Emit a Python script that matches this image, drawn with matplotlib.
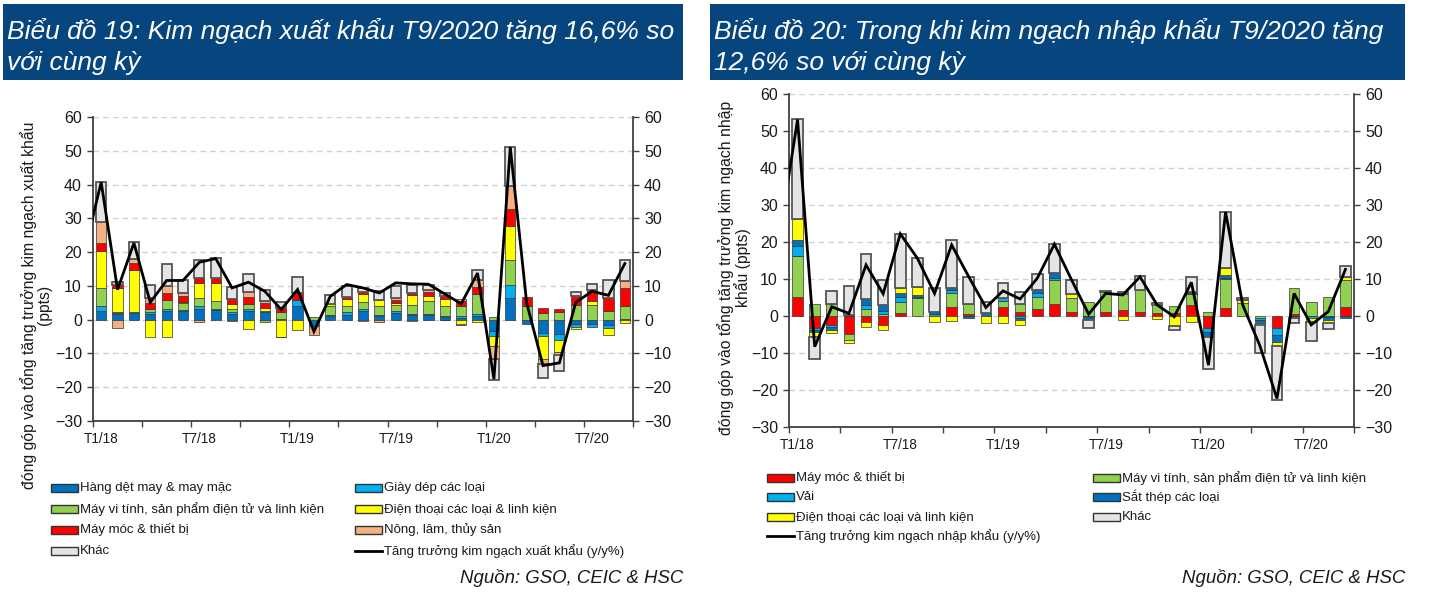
import numpy as np
import matplotlib
matplotlib.use("Agg")
import matplotlib.pyplot as plt
from matplotlib.patches import Rectangle
from matplotlib.lines import Line2D

plt.rcParams['font.family'] = ['Liberation Sans', 'DejaVu Sans']

W, H = 1429, 611
DPI = 100

# ---------------- data ----------------
months = [f"T{m}/{y}" for y in (18, 19, 20) for m in range(1, 13)][:33]
tick_labels = ["T1/18", "T7/18", "T1/19", "T7/19", "T1/20", "T7/20"]
tick_months = ["T1/18", "T7/18", "T1/19", "T7/19", "T1/20", "T7/20"]

# Chart 19 - exports (ppts contribution)
exp_det_may = [2.5, 1.7, 2.0, 1.8, 2.5, 2.5, 3.2, 3.0, 1.8, 2.5, 2.2, 0.0, 4.1, -2.0, 1.2, 1.5, 2.5,
               1.0, 2.0, 1.5, 1.3, 0.8, 0.5, 1.2, -3.5, 6.4, -1.3, -3.9, -4.1, -1.3, -1.2, -1.5, 0.3]
exp_giay_dep = [1.5, 0.3, 0.3, 0.6, 0.7, 0.3, 0.8, 0.3, 0.4, 0.7, 0.5, 0.3, 1.6, 0.0, 0.3, 0.8, 0.7,
                0.5, 0.7, 0.3, 0.3, 0.2, 0.7, 0.6, -1.4, 4.0, 0.0, -1.0, -1.8, -0.9, -1.0, -1.0, 0.0]
exp_may_vi_tinh = [5.4, 0.2, 0.0, 0.8, 2.7, 2.2, 2.4, 2.3, 1.0, 1.4, -0.6, 2.0, 0.0, 0.8, 2.4, 1.8, 1.9,
                   2.4, 1.7, 2.6, 3.8, 2.9, 2.9, 5.8, 0.8, 7.2, 4.0, 2.0, 2.2, 4.4, 4.2, 2.5, 3.8]
exp_dien_thoai = [11.0, 7.2, 12.5, -5.1, -5.1, 0.3, 4.5, 5.3, 1.4, -2.7, 0.8, -5.0, -3.2, 0.0, 0.8, 2.0, 2.6,
                  2.0, 0.5, 3.0, 1.7, 2.2, -1.5, -0.7, -3.0, 10.0, 0.0, -6.7, -3.8, -0.6, 1.2, -1.9, -1.0]
exp_may_moc = [2.3, 1.0, 2.0, 1.8, 2.0, 1.6, 1.4, 1.4, 1.5, 2.1, 1.4, 1.2, 2.2, 0.0, 0.0, 0.6, 0.4,
               0.0, 0.8, 0.5, 1.0, 1.0, 1.3, 2.0, 0.0, 5.3, 2.6, 1.5, 1.0, 2.5, 3.5, 3.9, 5.3]
exp_nong_lam = [6.3, -2.5, 1.3, 1.4, 2.2, 1.0, -0.6, 0.0, -0.4, 1.4, 0.5, -0.2, 0.0, -2.5, 0.0, 0.0, -0.4,
                -0.8, 0.6, -0.3, 0.8, -0.2, 0.7, 2.2, -3.7, 6.6, 0.0, -1.6, -0.9, 0.0, 0.0, 0.0, 2.0]
exp_khac = [11.8, 0.8, 4.8, 4.0, 6.5, 3.7, 5.3, 6.0, 3.6, 5.4, 3.5, 1.6, 4.7, 0.0, 2.5, 3.2, 1.3,
            2.5, 3.8, 2.5, 1.5, 0.8, -0.2, 2.8, -6.2, 11.6, 0.0, -4.2, -4.7, 1.2, 1.8, 5.2, 6.4]
exp_growth_t12_17 = 20.5
exp_growth = [40.7, 8.9, 22.7, 5.1, 11.6, 11.6, 17.0, 18.1, 9.4, 11.1, 8.4, 3.0, 8.9, -3.5, 6.9, 10.4, 9.4,
              7.9, 10.9, 10.6, 10.5, 7.6, 4.7, 13.8, -17.6, 51.1, 5.0, -13.6, -12.8, 5.1, 8.4, 7.2, 16.6]

# Chart 20 - imports (ppts contribution)
imp_may_moc = [5.0, -3.2, -2.3, -5.0, -1.5, -2.4, 0.9, 0.0, 0.0, 2.5, 0.5, 0.0, 2.5, 1.2, 1.8, 3.2, 1.2,
               0.0, 1.2, 1.6, 1.2, 0.7, 0.7, 3.0, -3.2, 2.1, 0.0, 0.0, -3.3, 0.5, 0.0, 0.0, 2.3]
imp_may_vi_tinh = [11.2, 3.2, 3.2, -1.5, 1.9, 0.6, 3.0, 4.8, 0.0, 3.6, 2.7, 0.0, 1.6, 2.0, 3.4, 6.5, 3.6,
                   3.7, 5.4, 4.3, 5.8, 2.3, 2.1, 2.9, 1.0, 7.8, 3.4, -0.5, 0.0, 7.2, 3.9, 5.1, 7.4]
imp_vai = [2.8, -0.6, -0.6, 0.0, 1.1, 0.8, 1.1, 0.3, 0.5, 0.9, 0.0, 0.0, 0.7, -0.5, 0.9, 0.5, 0.0,
           -0.4, 0.0, 0.0, 0.0, 0.0, 0.0, 0.4, -1.0, 0.3, 0.0, -0.7, -1.8, 0.0, -0.6, -0.3, 0.0]
imp_sat_thep = [1.6, -0.5, -0.9, 0.4, 1.5, 1.6, 1.2, 0.6, 0.7, 0.5, -0.6, 0.9, 0.0, -0.6, 0.9, 1.4, 0.0,
                -0.7, 0.0, 0.0, 0.0, 0.0, 0.0, 0.3, -1.4, 0.9, 0.0, -0.6, -1.8, -0.6, 0.0, -0.8, -0.5]
imp_dien_thoai = [5.7, -1.5, -0.7, -0.9, -1.6, -1.4, 1.3, 2.2, -1.5, -1.4, 0.0, -2.0, -2.0, -1.2, 0.0, 0.0, 1.1,
                  0.0, 0.0, -1.1, 0.0, -0.9, -2.6, -1.7, 0.0, 1.8, 0.9, -0.5, -1.2, 0.0, -1.1, -0.7, 0.9]
imp_khac = [27.0, -5.8, 3.6, 7.7, 12.2, 6.7, 14.7, 7.9, 6.5, 13.1, 7.4, 3.0, 4.0, 3.4, 4.4, 7.8, 3.8,
            -2.1, 0.2, 0.7, 3.8, 0.5, -1.2, 4.0, -8.8, 15.2, 0.5, -7.8, -14.5, -1.4, -5.1, -1.8, 2.8]
imp_growth_t12_17 = 23.3
imp_growth = [53.1, -8.3, 2.5, 0.7, 13.8, 6.0, 22.2, 15.6, 6.1, 19.2, 10.6, 2.3, 6.8, 4.6, 10.2, 19.4, 9.8,
              0.5, 6.1, 5.7, 10.6, 3.0, -0.2, 9.1, -13.3, 28.1, 3.0, -8.0, -22.3, 6.1, -2.4, 1.2, 12.6]

exp_names = ["Hàng dệt may & may mặc", "Giày dép các loại",
             "Máy vi tính, sản phẩm điện tử và linh kiện", "Điện thoại các loại & linh kiện",
             "Máy móc & thiết bị", "Nông, lâm, thủy sản", "Khác"]
exp_line_name = "Tăng trưởng kim ngạch xuất khẩu (y/y%)"
imp_names = ["Máy móc & thiết bị", "Máy vi tính, sản phẩm điện tử và linh kiện", "Vải",
             "Sắt thép các loại", "Điện thoại các loại và linh kiện", "Khác"]
imp_line_name = "Tăng trưởng kim ngạch nhập khẩu (y/y%)"

# ---------------- style ----------------
C_DBLUE = "#0070C0"
C_LBLUE = "#00B0F0"
C_GREEN = "#92D050"
C_YELLOW = "#FFFF00"
C_RED = "#FF0000"
C_SALMON = "#F4B183"
C_GREY = "#E4E4E4"
TITLE_BG = "#07457F"
AX_COL = "#404040"

exp_colors = [C_DBLUE, C_LBLUE, C_GREEN, C_YELLOW, C_RED, C_SALMON, C_GREY]
imp_colors = [C_RED, C_GREEN, C_LBLUE, C_DBLUE, C_YELLOW, C_GREY]

fig = plt.figure(figsize=(W / DPI, H / DPI), dpi=DPI)
fig.patch.set_facecolor("white")


def fx(x):
    return x / W


def fy(y):
    return 1 - y / H


def make_axes(x0, x1, y0, y1):
    return fig.add_axes([fx(x0), fy(y1), fx(x1) - fx(x0), fy(y0) - fy(y1)])


def draw_chart(ax, series, colors, growth_prev, growth, ylabel, ylabel_xy):
    n = len(months)
    x = np.arange(n)
    pos = np.zeros(n)
    neg = np.zeros(n)
    for vals, c in zip(series, colors):
        v = np.asarray(vals, float)
        m = v != 0
        bottom = np.where(v > 0, pos, neg)
        grey = c == C_GREY
        ax.bar(x[m], v[m], bottom=bottom[m], width=0.62, color=c,
               edgecolor="#555555" if grey else "#333333",
               linewidth=1.3 if grey else 0.5, zorder=2)
        pos += np.where(v > 0, v, 0)
        neg += np.where(v < 0, v, 0)
    xl = np.arange(-1, n)
    yl = [growth_prev] + list(growth)
    ax.plot(xl, yl, color="black", lw=2.0, zorder=3, solid_joinstyle="miter")

    ax.set_xlim(-0.5, n - 0.5)
    ax.set_ylim(-30, 60)
    ax.set_yticks(np.arange(-30, 61, 10))
    ax.grid(axis="y", color="#D0D0D0", linestyle=(0, (4, 3)), lw=1.0, zorder=0)
    ax.set_axisbelow(True)
    for s in ("left", "right", "bottom"):
        ax.spines[s].set_color(AX_COL)
        ax.spines[s].set_linewidth(1.3)
    ax.spines["top"].set_visible(False)
    ax.tick_params(axis="y", which="both", left=True, right=True, labelleft=True, labelright=True,
                   direction="out", length=4, width=1.0, color=AX_COL, labelsize=11.5, pad=4,
                   labelcolor="#1a1a1a")
    ax.set_xticks([months.index(t) for t in tick_months])
    ax.set_xticklabels(tick_labels)
    ax.set_xticks(np.arange(-0.5, n, 3), minor=True)
    ax.tick_params(axis="x", which="major", length=0, labelsize=9.8, pad=8, labelcolor="#1a1a1a")
    ax.tick_params(axis="x", which="minor", length=4, width=1.0, color=AX_COL, direction="out")
    fig.text(fx(ylabel_xy[0]), fy(ylabel_xy[1]), ylabel, rotation=90, ha="center", va="center",
             fontsize=11.3, color="#1a1a1a", linespacing=1.0)


def legend_block(entries, col_x, row_y, text_gap=2):
    for (kind, label, color), (cx, ry) in zip(entries, [(col_x[i % 2], row_y[i // 2]) for i in range(len(entries))]):
        if kind == "bar":
            fig.add_artist(Rectangle((fx(cx), fy(ry + 4)), 27 / W, 8 / H, transform=fig.transFigure,
                                     facecolor=color, edgecolor="#333333", lw=1.0))
        else:
            fig.add_artist(Line2D([fx(cx), fx(cx + 27)], [fy(ry), fy(ry)], transform=fig.transFigure,
                                  color="black", lw=2.0))
        fig.text(fx(cx + 27 + text_gap), fy(ry), label, ha="left", va="center", fontsize=9.5,
                 color="#1a1a1a")


def title_box(x0, x1, y0, y1, lines):
    fig.add_artist(Rectangle((fx(x0), fy(y1)), (x1 - x0) / W, (y1 - y0) / H, transform=fig.transFigure,
                             facecolor=TITLE_BG, edgecolor="none"))
    for i, t in enumerate(lines):
        fig.text(fx(x0 + 4), fy(y0 + 27 + i * 32), t, ha="left", va="center", fontsize=19,
                 style="italic", color="white")


# ---------------- chart 19 ----------------
title_box(3, 683, 4, 80, ["Biểu đồ 19: Kim ngạch xuất khẩu T9/2020 tăng 16,6% so", "với cùng kỳ"])
ax1 = make_axes(93, 633, 117, 421)
draw_chart(ax1, [exp_det_may, exp_giay_dep, exp_may_vi_tinh, exp_dien_thoai, exp_may_moc, exp_nong_lam,
                 exp_khac], exp_colors, exp_growth_t12_17, exp_growth,
           "đóng góp vào tổng tăng trưởng kim ngạch xuất khẩu\n(ppts)", (36, 305))
legend_block([("bar", n_, c) for n_, c in zip(exp_names, exp_colors)] + [("line", exp_line_name, "black")],
             [51, 355], [488, 509, 530, 551])
fig.text(fx(683), fy(578), "Nguồn: GSO, CEIC & HSC", ha="right", va="center", fontsize=13.4,
         style="italic", color="#1a1a1a")

# ---------------- chart 20 ----------------
title_box(710, 1405, 4, 80, ["Biểu đồ 20: Trong khi kim ngạch nhập khẩu T9/2020 tăng", "12,6% so với cùng kỳ"])
ax2 = make_axes(789, 1354, 94, 427)
draw_chart(ax2, [imp_may_moc, imp_may_vi_tinh, imp_vai, imp_sat_thep, imp_dien_thoai, imp_khac],
           imp_colors, imp_growth_t12_17, imp_growth,
           "đóng góp vào tổng tăng trưởng kim ngạch nhập\nkhẩu (ppts)", (734, 268))
legend_block([("bar", n_, c) for n_, c in zip(imp_names, imp_colors)] + [("line", imp_line_name, "black")],
             [767, 1093], [478, 497, 517, 536])
fig.text(fx(1405), fy(578), "Nguồn: GSO, CEIC & HSC", ha="right", va="center", fontsize=13.4,
         style="italic", color="#1a1a1a")

fig.savefig("out.png", dpi=DPI)
